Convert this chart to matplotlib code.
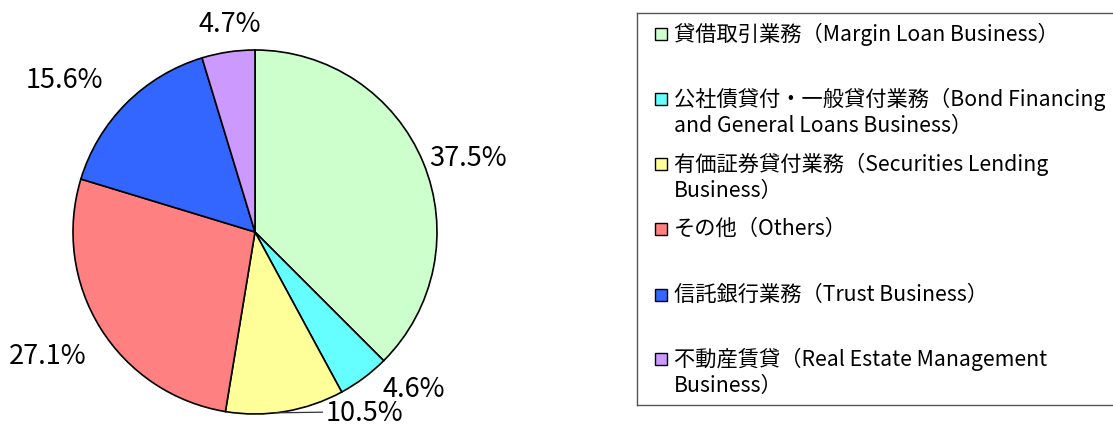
import numpy as np
import matplotlib
matplotlib.use("Agg")
import matplotlib.pyplot as plt
from matplotlib.patches import Rectangle


# -------------------------
# Data
# -------------------------
shares = [37.5, 4.6, 10.5, 27.1, 15.6, 4.7]
labels = [
    "貸借取引業務（Margin Loan Business）",
    "公社債貸付・一般貸付業務（Bond Financing\nand General Loans Business）",
    "有価証券貸付業務（Securities Lending\nBusiness）",
    "その他（Others）",
    "信託銀行業務（Trust Business）",
    "不動産賃貸（Real Estate Management\nBusiness）",
]
colors = ["#CCFFCC", "#66FFFF", "#FFFF99", "#FF8080", "#3366FF", "#CC99FF"]

# label placement (radius factor, angle nudge in degrees)
label_r = [1.24, 1.23, 1.165, 1.33, 1.34, 1.15]
label_da = [-3.5, 8.5, 21.5, -1.0, 6.5, -1.5]

PCT_FONT = ["Noto Sans CJK JP", "DejaVu Sans"]
LEG_FONT = ["Noto Sans CJK JP", "DejaVu Sans"]

W, H = 1113, 428
fig = plt.figure(figsize=(W / 100, H / 100), dpi=100)

# pie axes: center at (255, 232) px from top, radius 182 px
half = 196
R = 182
ax = fig.add_axes([(255 - half) / W, (H - 232 - half) / H, 2 * half / W, 2 * half / H])
lim = half / R

wedges, _ = ax.pie(
    shares,
    colors=colors,
    startangle=90,
    counterclock=False,
    radius=1.0,
    wedgeprops=dict(edgecolor="black", linewidth=1.2),
)
ax.set_xlim(-lim, lim)
ax.set_ylim(-lim, lim)
ax.set_aspect("equal")
ax.axis("off")

for i, w in enumerate(wedges):
    mid = np.deg2rad((w.theta1 + w.theta2) / 2 + label_da[i])
    x = label_r[i] * np.cos(mid)
    y = label_r[i] * np.sin(mid)
    ax.text(x, y, f"{shares[i]:.1f}%", ha="center", va="center",
            fontsize=19.5, family=PCT_FONT)

# leader line for the 10.5% slice
w = wedges[2]
m = np.deg2rad((w.theta1 + w.theta2) / 2 - 3)
ax.plot([np.cos(m) * 1.0, 0.37], [np.sin(m) * 1.0, -0.99],
        color="#333333", linewidth=0.9)

# legend drawn in its own framed axes
lx0, ly0, ly1 = 637, 13, 405
lax = fig.add_axes([lx0 / W, (H - ly1) / H, (W - lx0 + 6) / W, (ly1 - ly0) / H])
lax.set_xlim(0, W - lx0 + 6)
lax.set_ylim(ly1 - ly0, 0)
lax.set_xticks([])
lax.set_yticks([])
for s in lax.spines.values():
    s.set_color("#555555")
    s.set_linewidth(1.0)

entry_y = [34, 99, 164, 229, 295, 359]
line_gap = 27
for i, lab in enumerate(labels):
    yy = entry_y[i] - ly0
    lax.add_patch(Rectangle((655 - lx0, yy - 6), 12, 12, facecolor=colors[i],
                            edgecolor="black", linewidth=1.0))
    for k, line in enumerate(lab.split("\n")):
        lax.text(674 - lx0, yy + k * line_gap, line, ha="left", va="center",
                 fontsize=15.3, family=LEG_FONT)

fig.savefig("out.png", dpi=100)
